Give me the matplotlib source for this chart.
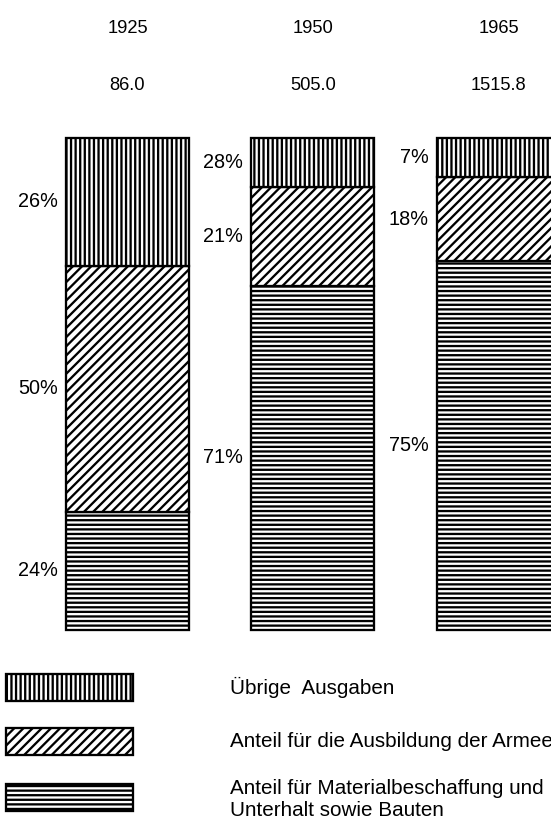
import matplotlib
matplotlib.use("Agg")
import matplotlib.pyplot as plt
from matplotlib.patches import Rectangle
import numpy as np

# data
years = ["1925", "1950", "1965"]
totals = [86.0, 505.0, 1515.8]
# segment heights as drawn (percent of bar)
material = [24, 70, 75]      # Materialbeschaffung und Unterhalt sowie Bauten
ausbildung = [50, 20, 17]    # Ausbildung der Armee
uebrige = [26, 10, 8]        # Übrige Ausgaben
# labels as printed (1950 top is printed "28%")
material_lbl = ["24%", "71%", "75%"]
ausbildung_lbl = ["50%", "21%", "18%"]
uebrige_lbl = ["26%", "28%", "7%"]

legend_lbls = ["Übrige  Ausgaben",
               "Anteil für die Ausbildung der Armee",
               "Anteil für Materialbeschaffung und\nUnterhalt sowie Bauten"]
legend_hatch = ["||||", "////", "----"]

DPI = 110
W, H = 551, 826
plt.rcParams["font.family"] = ["Liberation Sans", "DejaVu Sans"]
plt.rcParams["hatch.linewidth"] = 1.5

fig = plt.figure(figsize=(W / DPI + 1e-4, H / DPI + 1e-4), dpi=DPI)
fig.patch.set_facecolor("white")
ax = fig.add_axes([0, 0, 1, 1])
ax.axis("off")
ax.set_xlim(-0.687, 2.283)
ax.set_ylim(-39.84, 128.05)

x = np.arange(len(years))
w = 0.663

segs = [
    (material, material_lbl, "----"),
    (ausbildung, ausbildung_lbl, "////"),
    (uebrige, uebrige_lbl, "||||"),
]
bottom = np.zeros(len(years))
for vals, lbls, hatch in segs:
    ax.bar(x, vals, w, bottom=bottom, facecolor="white", edgecolor="black",
           hatch=hatch, linewidth=1.5)
    for i, (v, l) in enumerate(zip(vals, lbls)):
        ax.text(x[i] - w / 2 - 0.045, bottom[i] + v / 2, l, ha="right",
                va="center", fontsize=13)
    bottom += np.array(vals)

for i in range(len(years)):
    ax.text(x[i], 122.2, years[i], ha="center", va="center", fontsize=12)
    ax.text(x[i], 110.6, f"{totals[i]:.1f}", ha="center", va="center", fontsize=12)

# legend, laid out in pixel units (top-left origin)
lax = fig.add_axes([0, 0, 1, 1])
lax.axis("off")
lax.set_xlim(0, W)
lax.set_ylim(H, 0)
row_top = [674, 728, 784]
sw_h = 27
for top, lbl, h in zip(row_top, legend_lbls, legend_hatch):
    lax.add_patch(Rectangle((6, top), 127, sw_h, facecolor="white",
                            edgecolor="black", hatch=h, linewidth=1.5))
    lax.text(230, top + sw_h / 2 + (2 if "\n" in lbl else 0), lbl,
             ha="left", va="center", fontsize=13.5, linespacing=1.15)

fig.savefig("out.png", dpi=DPI, facecolor="white")
